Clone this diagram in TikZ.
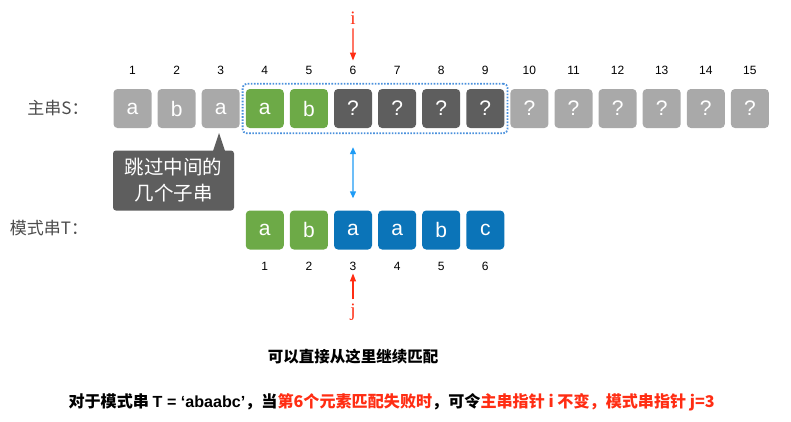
\documentclass[tikz,border=0pt]{standalone}
\usepackage{fontspec}
\setmainfont{Liberation Sans}
\newfontfamily\cjk{Noto Sans CJK SC}
\newfontfamily\latinb{Liberation Sans}
\newfontfamily\ptrfont{Liberation Serif}
\usetikzlibrary{arrows.meta,fit}

\definecolor{lgray}{HTML}{A9A9A9}
\definecolor{dgray}{HTML}{5E5E5E}
\definecolor{mgreen}{HTML}{6DAA47}
\definecolor{mblue}{HTML}{0B74B8}
\definecolor{ptrred}{HTML}{FF2D13}
\definecolor{skyblue}{HTML}{1E9BF5}
\definecolor{dotblue}{HTML}{4A90DC}

\begin{document}
\begin{tikzpicture}[x=1pt, y=-1pt,
    cell/.style={rectangle, rounded corners=4pt, minimum width=38pt, minimum height=39pt, inner sep=0pt, text=white, font=\fontsize{21}{21}\selectfont},
    idx/.style={inner sep=2pt, font=\fontsize{12}{12}\selectfont},
    rowlabel/.style={text=black!70, font=\cjk\fontsize{17}{17}\selectfont},
    ptr/.style={text=ptrred, inner sep=1pt, font=\ptrfont\fontsize{19}{19}\selectfont},
    ptrarrow/.style={-{Triangle[length=8pt,width=6pt]}, ptrred, line width=1.2pt},
    note/.style={font=\cjk\bfseries\fontsize{15.5}{15.5}\selectfont}
]
    \useasboundingbox (0,0) rectangle (791,421);

    % main string S
    \node[rowlabel] (slabel) at (58,108) {主串S：};
    \foreach \k/\c/\t in {1/lgray/a, 2/lgray/b, 3/lgray/a, 4/mgreen/a, 5/mgreen/b,
        6/dgray/?, 7/dgray/?, 8/dgray/?, 9/dgray/?, 10/lgray/?, 11/lgray/?,
        12/lgray/?, 13/lgray/?, 14/lgray/?, 15/lgray/?} {
        \node[cell, fill=\c] (s\k) at ({132.5+44.1*(\k-1)}, 108.5) {\t};
        \node[idx] (ns\k) at ({132.5+44.1*(\k-1)}, 70) {\k};
    }
    \node[fit=(s4)(s9), draw=dotblue, line width=1.8pt, dash pattern=on 1.6pt off 1.5pt,
        rounded corners=4pt, inner xsep=3pt, inner ysep=5pt] (window) {};

    % pattern T
    \node[rowlabel] (tlabel) at (49,228) {模式串T：};
    \foreach \k/\c/\t in {1/mgreen/a, 2/mgreen/b, 3/mblue/a, 4/mblue/a, 5/mblue/b, 6/mblue/c} {
        \node[cell, fill=\c] (t\k) at ({264.8+44.1*(\k-1)}, 230) {\t};
        \node[idx] (nt\k) at ({264.8+44.1*(\k-1)}, 266) {\k};
    }

    % pointers
    \node[ptr] (i) at (353,18) {i};
    \draw[ptrarrow, shorten <=3pt, shorten >=3pt] (i) -- (ns6);
    \node[ptr] (j) at (353,312) {j};
    \draw[ptrarrow, shorten <=3pt, shorten >=1pt] (j) -- (nt3);
    \draw[{Triangle[length=7pt,width=6pt]}-{Triangle[length=7pt,width=6pt]}, skyblue, line width=1.2pt,
        shorten <=19pt, shorten >=12pt] (s6.south) -- (t3.north);

    % callout
    \node[rectangle, rounded corners=3pt, fill=dgray, text=white, minimum width=121pt, minimum height=60pt,
        align=center, font=\cjk\fontsize{19.5}{26}\selectfont] (skip) at (173.5,180.5) {跳过中间的\\几个子串};
    \coordinate (tip) at (219,133);
    \fill[dgray] (213,151) -- (tip) -- (225,151) -- cycle;

    % notes
    \node[note] (cont) at (353,357) {可以直接从这里继续匹配};
    \node[note, anchor=west, font=\cjk\bfseries\fontsize{16.1}{16.1}\selectfont] (rule) at (65,402) {对于模式串 {\latinb T = ‘abaabc’}，当\textcolor{ptrred}{第6个元素匹配失败时}，可令\textcolor{ptrred}{主串指针 i 不变，模式串指针 j=3}};
\end{tikzpicture}
\end{document}
